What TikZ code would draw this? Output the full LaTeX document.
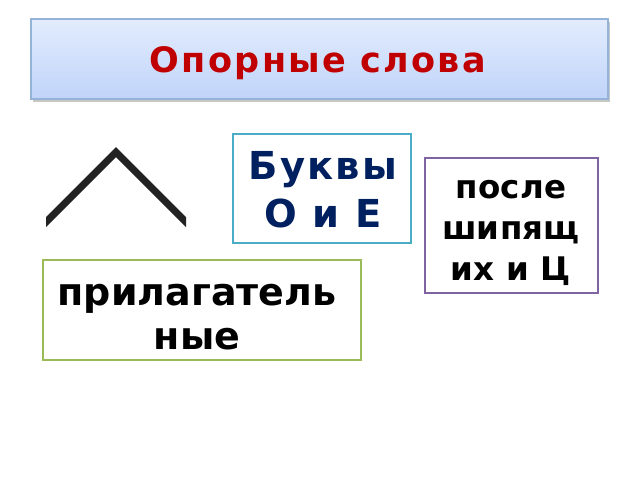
\documentclass[tikz,border=0pt]{standalone}
\usepackage{fontspec}
\setmainfont{DejaVu Sans}
\definecolor{titlered}{RGB}{192,0,0}
\definecolor{navy}{RGB}{0,32,96}
\definecolor{gtop}{RGB}{226,236,253}
\definecolor{gbot}{RGB}{192,212,250}
\definecolor{tborder}{RGB}{149,179,215}
\definecolor{cyanb}{RGB}{75,172,198}
\definecolor{purpb}{RGB}{128,100,162}
\definecolor{greenb}{RGB}{155,187,89}
\definecolor{roof}{RGB}{34,34,34}
\begin{document}
\begin{tikzpicture}[x=1pt,y=-1pt,
  box/.style={draw,line width=1.5pt,fill=white,minimum width=#1,inner sep=0pt},
  word/.style={anchor=base,inner sep=0pt}]
\useasboundingbox (0,0) rectangle (640,480);
% title
\fill[black!22] (33,22) rectangle (610,102);
\node[draw=tborder,line width=1.2pt,top color=gtop,bottom color=gbot,
  minimum width=577pt,minimum height=80pt,inner sep=0pt] (title) at (319.5,59) {};
\node[word,text=titlered,font=\bfseries\fontsize{35}{40}\selectfont\addfontfeature{LetterSpace=6.5}] (ttext) at (318,72.5) {Опорные слова};
% roof
\fill[roof] (46,217) -- (116,147) -- (186,217) -- (186,227) -- (116,157) -- (46,227) -- cycle;
% boxes
\node[box=178pt,draw=cyanb,minimum height=109pt] (b1) at (322,188.5) {};
\begin{scope}[every node/.style={word,text=navy,font=\bfseries\fontsize{38.5}{48}\selectfont\addfontfeature{LetterSpace=6}}]
\node (t1a) at (323,179) {Буквы};
\node (t1b) at (323,227.5) {О и Е};
\end{scope}
\node[box=173pt,draw=purpb,minimum height=135pt] (b2) at (511.5,225.5) {};
\begin{scope}[every node/.style={word,font=\bfseries\fontsize{32.5}{41}\selectfont\addfontfeature{LetterSpace=1}}]
\node (t2a) at (511,198.5) {после};
\node (t2b) at (511,239.5) {шипящ};
\node (t2c) at (511,280.5) {их и Ц};
\end{scope}
\node[box=318pt,draw=greenb,minimum height=100pt] (b3) at (202,310) {};
\begin{scope}[every node/.style={word,font=\bfseries\fontsize{38}{45}\selectfont}]
\node (t3a) at (197,305) {прилагатель};
\node (t3b) at (197,349.5) {ные};
\end{scope}
\end{tikzpicture}
\end{document}
